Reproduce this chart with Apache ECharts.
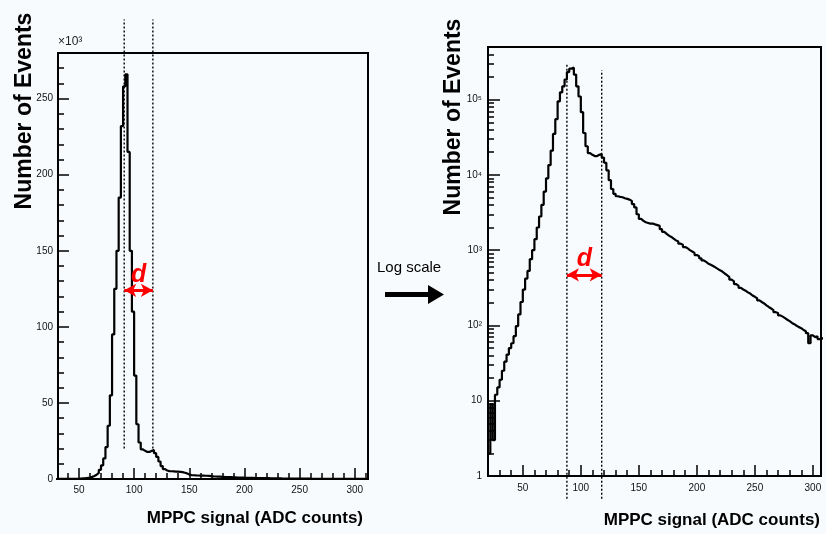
<!DOCTYPE html>
<html>
<head>
<meta charset="utf-8">
<script src="https://cdn.jsdelivr.net/npm/echarts@6/dist/echarts.min.js"></script>
<style>
  html, body { margin: 0; padding: 0; background: #f8fbfd; }
  #chart { width: 826px; height: 534px; }
</style>
</head>
<body>
<div id="chart"></div>
<script>
// MPPC charge spectrum: one histogram, 2 ADC counts per bin, first bin at 20
const binLow = 20;
const binWidth = 2;
const counts = [
  2, 9, 3, 12, 15, 19, 25, 33, 41, 50,
  58, 72, 98, 140, 205, 300, 420, 530, 760, 1000,
  1400, 2000, 2800, 4000, 6000, 9000, 13500, 21000, 35000, 55000,
  95000, 125000, 150000, 185000, 232000, 258000, 266000, 215000, 150000, 110000,
  68000, 36000, 24000, 19500, 18500, 17800, 17800, 18500, 19000, 17000,
  14500, 11500, 8500, 6500, 5600, 5200, 5100, 5050, 4900, 4800,
  4700, 4500, 4100, 3700, 3000, 2600, 2450, 2350, 2300, 2250,
  2260, 2200, 2150, 2100, 1900, 1750, 1650, 1560, 1500, 1420,
  1350, 1300, 1220, 1180, 1100, 1060, 1000, 960, 920, 860,
  830, 780, 730, 700, 660, 640, 615, 590, 565, 540,
  520, 490, 465, 440, 405, 385, 355, 335, 315, 300,
  290, 275, 265, 250, 240, 230, 215, 205, 196, 185,
  176, 168, 160, 150, 146, 136, 131, 125, 119, 114,
  108, 104, 99, 95, 92, 87, 84, 79, 58, 74,
  70, 72, 66, 68, 65
];

// Axis ticks and labels
const xTicks = [50, 100, 150, 200, 250, 300];
const linTicks = [0, 50, 100, 150, 200, 250];          // in units of 10^3 events
const logTicks = [1, 10, 100, 1000, 10000, 100000];
const logTickLabels = ['1', '10', '10\u00B2', '10\u00B3', '10\u2074', '10\u2075'];

// Pedestal / 1 p.e. cut positions (ADC) and the height of the "d" marker
const cutsLinear = [91, 117];
const cutsLog = [88, 118];
const cutSpanLinear = [20, 302];                       // 10^3 events
const cutSpanLog = [[0.5, 310000], [0.5, 245000]];
const arrowLevelLinear = 124;                          // 10^3 events
const arrowLevelLog = 470;

// ---- derived series data (step outline of the histogram) ----
const nBins = counts.length;
const edgeOf = i => binLow + i * binWidth;
const logData = counts.map((c, i) => [edgeOf(i), c]);
logData.push([edgeOf(nBins), counts[nBins - 1]]);
const linData = logData.map(p => [p[0], p[1] / 1000]);

const xMinor = [];
for (let v = 10; v <= 320; v += 10) if (v % 50 !== 0) xMinor.push(v);
const linMinor = [];
for (let v = 10; v <= 280; v += 10) if (v % 50 !== 0) linMinor.push(v);
const logMinor = [];
for (let d = 1; d <= 100000; d *= 10) for (let m = 2; m <= 9; m++) logMinor.push(m * d);

const FONT = '"Liberation Sans", Arial, sans-serif';
const black = '#000';

function majorAxisStyle(ticks, len, margin, formatter) {
  return {
    axisLine: { show: true, lineStyle: { color: black, width: 2 } },
    axisTick: { show: true, inside: true, length: len, customValues: ticks, lineStyle: { color: black, width: 1.5 } },
    axisLabel: { show: true, customValues: ticks, margin: margin, color: '#111', fontSize: 10, fontFamily: FONT, formatter: formatter },
    splitLine: { show: false }
  };
}
function minorAxisStyle(ticks, len) {
  return {
    axisLine: { show: false },
    axisTick: { show: true, inside: true, length: len, customValues: ticks, lineStyle: { color: black, width: 1.5 } },
    axisLabel: { show: false },
    splitLine: { show: false }
  };
}
const logFmt = v => {
  const i = logTicks.findIndex(t => Math.abs(Math.log10(t) - Math.log10(v)) < 1e-6);
  return i >= 0 ? logTickLabels[i] : '';
};

function cutLine(x, y0, y1, xi, yi) {
  return {
    type: 'line', xAxisIndex: xi, yAxisIndex: yi, data: [[x, y0], [x, y1]],
    clip: false, symbol: 'none', silent: true,
    lineStyle: { color: black, width: 1.4, type: [2, 2] }, z: 3
  };
}
function arrowMark(cuts, level) {
  return {
    silent: true, animation: false,
    symbol: ['arrow', 'arrow'], symbolSize: [10, 12],
    lineStyle: { color: '#ff0000', width: 3, type: 'solid' },
    label: { show: true, position: 'middle', formatter: 'd', color: '#ff0000',
             fontSize: 25, fontStyle: 'italic', fontWeight: 'bold', fontFamily: FONT, distance: 3 },
    emphasis: { disabled: true },
    data: [[{ coord: [cuts[0], level] }, { coord: [cuts[1], level] }]]
  };
}

const chart = echarts.init(document.getElementById('chart'), null, { renderer: 'canvas' });
chart.setOption({
  animation: false,
  backgroundColor: '#f8fbfd',
  textStyle: { fontFamily: FONT },
  grid: [
    { left: 58, top: 53, width: 310, height: 426, show: true, borderColor: black, borderWidth: 2, backgroundColor: 'transparent' },
    { left: 488, top: 47, width: 333, height: 429, show: true, borderColor: black, borderWidth: 2, backgroundColor: 'transparent' }
  ],
  xAxis: [
    Object.assign({ type: 'value', gridIndex: 0, position: 'bottom', min: 31, max: 312 }, majorAxisStyle(xTicks, 11, 6)),
    Object.assign({ type: 'value', gridIndex: 0, position: 'bottom', min: 31, max: 312 }, minorAxisStyle(xMinor, 6)),
    Object.assign({ type: 'value', gridIndex: 1, position: 'bottom', min: 20, max: 307 }, majorAxisStyle(xTicks, 11, 7)),
    Object.assign({ type: 'value', gridIndex: 1, position: 'bottom', min: 20, max: 307 }, minorAxisStyle(xMinor, 6))
  ],
  yAxis: [
    Object.assign({ type: 'value', gridIndex: 0, position: 'left', min: 0, max: 280 }, majorAxisStyle(linTicks, 11, 5)),
    Object.assign({ type: 'value', gridIndex: 0, position: 'left', min: 0, max: 280 }, minorAxisStyle(linMinor, 6)),
    Object.assign({ type: 'log', logBase: 10, gridIndex: 1, position: 'left', min: 1, max: 500000 }, majorAxisStyle(logTicks, 12, 6, logFmt)),
    Object.assign({ type: 'log', logBase: 10, gridIndex: 1, position: 'left', min: 1, max: 500000 }, minorAxisStyle(logMinor, 6))
  ],
  series: [
    {
      type: 'line', xAxisIndex: 0, yAxisIndex: 0, data: linData, step: 'end',
      symbol: 'none', silent: true, clip: true,
      lineStyle: { color: black, width: 2.2 }, z: 4,
      markLine: arrowMark(cutsLinear, arrowLevelLinear)
    },
    {
      type: 'line', xAxisIndex: 2, yAxisIndex: 2, data: logData, step: 'end',
      symbol: 'none', silent: true, clip: true,
      lineStyle: { color: black, width: 2.2 }, z: 4,
      markLine: arrowMark(cutsLog, arrowLevelLog)
    },
    cutLine(cutsLinear[0], cutSpanLinear[0], cutSpanLinear[1], 0, 0),
    cutLine(cutsLinear[1], cutSpanLinear[0], cutSpanLinear[1], 0, 0),
    cutLine(cutsLog[0], cutSpanLog[0][0], cutSpanLog[0][1], 2, 2),
    cutLine(cutsLog[1], cutSpanLog[1][0], cutSpanLog[1][1], 2, 2)
  ],
  graphic: [
    { type: 'text', x: 25, y: 111, rotation: Math.PI / 2,
      style: { text: 'Number of Events', font: 'bold 23px ' + FONT, fill: black, align: 'center', verticalAlign: 'middle' } },
    { type: 'text', x: 454, y: 117, rotation: Math.PI / 2,
      style: { text: 'Number of Events', font: 'bold 23px ' + FONT, fill: black, align: 'center', verticalAlign: 'middle' } },
    { type: 'text', x: 363, y: 518,
      style: { text: 'MPPC signal (ADC counts)', font: 'bold 17px ' + FONT, fill: black, align: 'right', verticalAlign: 'middle' } },
    { type: 'text', x: 820, y: 520,
      style: { text: 'MPPC signal (ADC counts)', font: 'bold 17px ' + FONT, fill: black, align: 'right', verticalAlign: 'middle' } },
    { type: 'text', x: 58, y: 42,
      style: { text: '\u00D710\u00B3', font: '12px ' + FONT, fill: '#222', align: 'left', verticalAlign: 'middle' } },
    { type: 'text', x: 377, y: 268,
      style: { text: 'Log scale', font: '15px ' + FONT, fill: black, align: 'left', verticalAlign: 'middle' } },
    { type: 'polygon',
      shape: { points: [[385, 292], [428, 292], [428, 285], [444, 294.5], [428, 304], [428, 297], [385, 297]] },
      style: { fill: black } }
  ]
});
</script>
</body>
</html>
